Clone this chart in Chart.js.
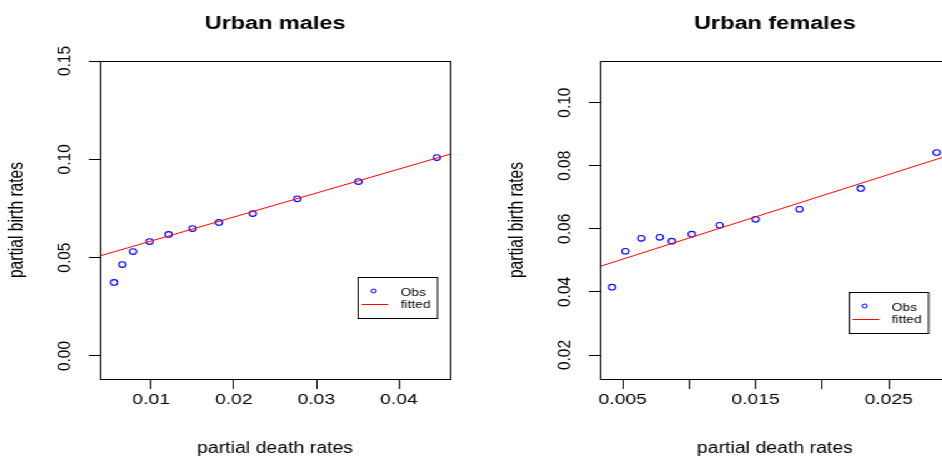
<!DOCTYPE html>
<html>
<head>
<meta charset="utf-8">
<script src="https://cdn.jsdelivr.net/npm/chart.js@4"></script>
<style>
  html, body { margin: 0; padding: 0; background: #fff; overflow: hidden; width: 942px; height: 456px; }
  /* the plots are laid out narrow and widened as a whole */
  #stage { position: absolute; left: 0; top: 0; width: 840px; height: 456px; transform: scaleX(1.25); transform-origin: 0 0; }
  #stage canvas { position: absolute; top: 0; }
  #males { left: 0; }
  #females { left: 400px; }
</style>
</head>
<body>
<div id="stage">
  <canvas id="males" width="440" height="456"></canvas>
  <canvas id="females" width="440" height="456"></canvas>
</div>
<script>
// ===== Urban males =====
const maleDeath = [0.0055, 0.0065, 0.0078, 0.0098, 0.0121, 0.0150, 0.0182, 0.0223, 0.0277, 0.0351, 0.0446];
const maleBirth = [0.0374, 0.0465, 0.0531, 0.0582, 0.0618, 0.0648, 0.0679, 0.0724, 0.0799, 0.0887, 0.1009];
const maleFitX = [0.0038, 0.0462];
const maleFitY = [0.0509, 0.1026];
const maleXTicks = [0.01, 0.02, 0.03, 0.04];
const maleXLabels = ['0.01', '0.02', '0.03', '0.04'];
const maleYTicks = [0, 0.05, 0.10, 0.15];
const maleYLabels = ['0.00', '0.05', '0.10', '0.15'];

// ===== Urban females =====
const femaleDeath = [0.0042, 0.0052, 0.0064, 0.0078, 0.0087, 0.0102, 0.0123, 0.0150, 0.0183, 0.0229, 0.0286];
const femaleBirth = [0.0415, 0.0529, 0.0570, 0.0573, 0.0561, 0.0583, 0.0611, 0.0630, 0.0662, 0.0728, 0.0842];
const femaleFitX = [0.0033, 0.0296];
const femaleFitY = [0.0481, 0.0834];
const femaleXTicks = [0.005, 0.010, 0.015, 0.020, 0.025];
const femaleXLabels = ['0.005', '', '0.015', '', '0.025'];
const femaleYTicks = [0.02, 0.04, 0.06, 0.08, 0.10];
const femaleYLabels = ['0.02', '0.04', '0.06', '0.08', '0.10'];

const FONT = '"Liberation Sans", Arial, sans-serif';

// title over the plot, box round it, y labels parallel to the axis, legend placed in data units
const rFrame = {
  id: 'rFrame',
  afterDraw(chart, args, opts) {
    const { ctx, chartArea: a, scales: { x, y } } = chart;
    ctx.save();
    ctx.fillStyle = '#000';
    ctx.textAlign = 'center';
    ctx.textBaseline = 'middle';
    ctx.font = `bold 18.8px ${FONT}`;
    ctx.fillText(opts.title, (a.left + a.right) / 2, 23.4);

    ctx.strokeStyle = '#000';
    ctx.lineWidth = 1;
    const l = Math.round(a.left) + 0.5, t = Math.round(a.top) + 0.5;
    const r = Math.round(a.right) + 0.5, b = Math.round(a.bottom) + 0.5;
    ctx.strokeRect(l, t, r - l, b - t);

    ctx.font = `15.5px ${FONT}`;
    opts.yTicks.forEach((v, i) => {
      ctx.save();
      ctx.translate(a.left - 28.4, y.getPixelForValue(v));
      ctx.rotate(-Math.PI / 2);
      ctx.fillText(opts.yLabels[i], 0, 0);
      ctx.restore();
    });

    // legend
    const lx = Math.round(x.getPixelForValue(opts.legendAt[0])) + 0.5;
    const ly = Math.round(y.getPixelForValue(opts.legendAt[1])) + 0.5;
    ctx.strokeRect(lx, ly, 63.5, 41);
    ctx.strokeStyle = '#0000ff';
    ctx.beginPath();
    ctx.arc(lx + 12.3, ly + 13.5, 2, 0, Math.PI * 2);
    ctx.stroke();
    ctx.strokeStyle = '#ff0000';
    ctx.beginPath();
    ctx.moveTo(lx + 2.7, ly + 27);
    ctx.lineTo(lx + 24, ly + 27);
    ctx.stroke();
    ctx.font = `11px ${FONT}`;
    ctx.textAlign = 'left';
    ctx.fillText('Obs', lx + 34, ly + 15.5);
    ctx.fillText('fitted', lx + 34, ly + 27.5);
    ctx.restore();
  }
};

function makePanel(id, title, deathRates, birthRates, fitX, fitY, xRange, yRange, xTicks, xLabels, yTicks, yLabels, legendAt) {
  new Chart(document.getElementById(id), {
    type: 'scatter',
    data: {
      datasets: [{
        label: 'fitted',
        data: fitX.map((v, i) => ({ x: v, y: fitY[i] })),
        showLine: true,
        borderColor: '#ff0000',
        borderWidth: 1,
        pointRadius: 0
      }, {
        label: 'Obs',
        data: deathRates.map((v, i) => ({ x: v, y: birthRates[i] })),
        pointStyle: 'circle',
        pointRadius: 2.8,
        borderWidth: 1.1,
        borderColor: '#0000ff',
        backgroundColor: 'rgba(0,0,0,0)'
      }]
    },
    options: {
      responsive: false,
      animation: false,
      layout: { padding: { left: 0, right: 80, top: 61, bottom: 0 } },
      plugins: {
        legend: { display: false },
        tooltip: { enabled: false },
        title: { display: false },
        rFrame: { title, yTicks, yLabels, legendAt }
      },
      scales: {
        x: {
          type: 'linear',
          min: xRange[0],
          max: xRange[1],
          afterBuildTicks: s => { s.ticks = xTicks.map(v => ({ value: v })); },
          afterFit: s => { s.height = 77; },
          border: { display: false },
          grid: { drawOnChartArea: false, drawTicks: true, tickLength: 10, tickColor: '#000', tickWidth: 1 },
          ticks: {
            autoSkip: false, maxRotation: 0, padding: 1, color: '#000',
            font: { family: FONT, size: 15.5 },
            callback: (v, i) => xLabels[i]
          },
          title: {
            display: true, text: 'partial death rates', color: '#000',
            font: { family: FONT, size: 15.6, lineHeight: 1 },
            padding: { top: 0, bottom: 0 }
          }
        },
        y: {
          type: 'linear',
          min: yRange[0],
          max: yRange[1],
          afterBuildTicks: s => { s.ticks = yTicks.map(v => ({ value: v })); },
          afterFit: s => { s.width = 80; },
          border: { display: false },
          grid: { drawOnChartArea: false, drawTicks: true, tickLength: 8.8, tickColor: '#000', tickWidth: 1 },
          ticks: { display: false },
          title: {
            display: true, text: 'partial birth rates', color: '#000',
            font: { family: FONT, size: 15.6, lineHeight: 1.2 },
            padding: { top: 4.6, bottom: 0 }
          }
        }
      }
    },
    plugins: [rFrame]
  });
}

makePanel('males', 'Urban males', maleDeath, maleBirth, maleFitX, maleFitY,
  [0.0038, 0.0462], [-0.0117, 0.150], maleXTicks, maleXLabels, maleYTicks, maleYLabels, [0.035, 0.04]);
makePanel('females', 'Urban females', femaleDeath, femaleBirth, femaleFitX, femaleFitY,
  [0.0033, 0.0296], [0.0124, 0.1132], femaleXTicks, femaleXLabels, femaleYTicks, femaleYLabels, [0.022, 0.04]);
</script>
</body>
</html>
